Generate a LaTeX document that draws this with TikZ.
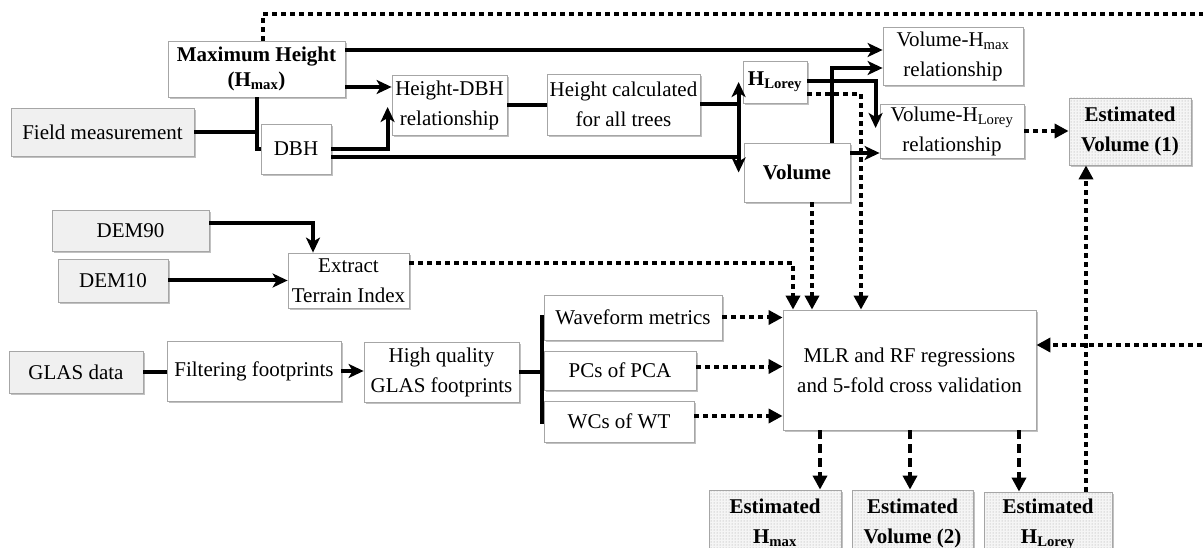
\documentclass[tikz,border=0pt]{standalone}
\usepackage{fontspec}
\setmainfont{Liberation Serif}
\usetikzlibrary{arrows.meta,shadows,patterns,calc}
\begin{document}
\begin{tikzpicture}[x=1pt,y=-1pt,
  box/.style={draw=gray!70, line width=0.8pt, fill=white, inner sep=0pt, align=center,
    drop shadow={shadow xshift=2pt, shadow yshift=-2pt, opacity=0.35, fill=black!70},
    font=\fontsize{21}{30}\selectfont},
  gbox/.style={box, fill=gray!12},
  ebox/.style={box, fill=gray!8, postaction={pattern=dots, pattern color=gray!75},
    font=\bfseries\fontsize{21}{30}\selectfont},
  ln/.style={line width=4pt},
  arr/.style={ln, -{Stealth[length=15pt,width=14pt,inset=4pt]}},
  dotl/.style={ln, dash pattern=on 4.5pt off 4.5pt},
  dotarr/.style={dotl, -{Triangle[length=14pt,width=14pt]}},
  dasharr/.style={ln, dash pattern=on 9pt off 5pt, -{Triangle[length=14pt,width=14pt]}}
]
\useasboundingbox (0,0) rectangle (1203,548);
\clip (0,0) rectangle (1203,548);

% nodes
\node[box, minimum width=177pt, minimum height=56pt] (maxh) at (256.5,69) {\textbf{Maximum Height}\\[-5pt]\textbf{(H\textsubscript{max})}};
\node[gbox, minimum width=183pt, minimum height=48pt] (field) at (102.5,132) {Field measurement};
\node[box, minimum width=70pt, minimum height=50pt] (dbh) at (296,149) {DBH};
\node[box, minimum width=115pt, minimum height=60pt] (hdbh) at (449.5,105) {Height-DBH\\relationship};
\node[box, minimum width=153pt, minimum height=61pt] (hcalc) at (623.5,104.5) {Height calculated\\for all trees};
\node[box, minimum width=64pt, minimum height=42pt] (hlorey) at (775,82) {\textbf{H\textsubscript{Lorey}}};
\node[box, minimum width=106pt, minimum height=59pt] (volume) at (797,172.5) {\textbf{Volume}};
\node[box, minimum width=140pt, minimum height=58pt] (vhmax) at (953,56) {Volume-H\textsubscript{max}\\relationship};
\node[box, minimum width=144pt, minimum height=54pt] (vhlorey) at (952,131) {Volume-H\textsubscript{Lorey}\\relationship};
\node[ebox, minimum width=122pt, minimum height=67pt] (estv1) at (1130,131.5) {Estimated\\Volume (1)};
\node[gbox, minimum width=157pt, minimum height=41pt] (dem90) at (130.5,230.5) {DEM90};
\node[gbox, minimum width=110pt, minimum height=43pt] (dem10) at (113,280.5) {DEM10};
\node[box, minimum width=121pt, minimum height=55pt] (extract) at (348.5,280.5) {Extract\\Terrain Index};
\node[gbox, minimum width=134pt, minimum height=42pt] (glas) at (76,372) {GLAS data};
\node[box, minimum width=174pt, minimum height=60pt] (filter) at (254,371) {Filtering footprints};
\node[box, minimum width=155pt, minimum height=60pt] (hq) at (441.5,372) {High quality\\GLAS footprints};
\node[box, minimum width=178pt, minimum height=45pt] (wave) at (633,317.5) {Waveform metrics};
\node[box, minimum width=152pt, minimum height=39pt] (pca) at (620,370.5) {PCs of PCA};
\node[box, minimum width=150pt, minimum height=41pt] (wt) at (619,421.5) {WCs of WT};
\node[box, minimum width=253pt, minimum height=120pt] (mlr) at (909.5,370) {MLR and RF regressions\\and 5-fold cross validation};
\node[ebox, minimum width=132pt, minimum height=66pt] (esth) at (775,523) {Estimated\\H\textsubscript{max}};
\node[ebox, minimum width=121pt, minimum height=66pt] (estv2) at (912.5,523) {Estimated\\Volume (2)};
\node[ebox, minimum width=128pt, minimum height=64pt] (esthl) at (1048,524) {Estimated\\H\textsubscript{Lorey}};

\coordinate (jx) at (739,0);
\coordinate (bx) at (542,0);
\coordinate (rx) at (1215,14);

% field measurement block
\draw[ln] (field.east) -- (field.east -| maxh.south);
\draw[ln] (maxh.south) |- (dbh.west);
\draw[arr] ([yshift=-18pt]maxh.east) -- ([yshift=-18pt]maxh.east -| hdbh.west);
\draw[arr] ([yshift=19pt]maxh.east) -- ([yshift=19pt]maxh.east -| vhmax.west);
\draw[arr] (dbh.east) -| ([xshift=-4pt,yshift=-2pt]hdbh.west);
\draw[arr] ([yshift=-8pt]dbh.east) -| ([xshift=-5pt]volume.west);
\draw[ln] (hdbh.east) -- (hdbh.east -| hcalc.west);
\draw[arr] (hcalc.east) -| ([xshift=-4pt]hlorey.west);
\draw[ln] (hcalc.east -| jx) -- ([yshift=-8pt]dbh.east -| jx);
\draw[arr] ([yshift=1pt]hlorey.east) -| ([xshift=-4pt,yshift=3pt]vhlorey.west);
\draw[dotarr] ([yshift=-12pt]hlorey.east) -| ([xshift=-48.5pt]mlr.north);
\draw[arr] ([xshift=35pt]volume.north) |- ([yshift=-12pt]vhmax.west);
\draw[arr] ([yshift=19.5pt]volume.east) -- ([yshift=19.5pt]volume.east -| vhlorey.west);
\draw[dotarr] ([xshift=15pt]volume.south) -- ([xshift=15pt]volume.south |- mlr.north);
\draw[dotarr] (vhlorey.east) -- (vhlorey.east -| estv1.west);

% terrain
\draw[arr] ([yshift=7.5pt]dem90.east) -| ([xshift=-35.5pt]extract.north);
\draw[arr] (dem10.east) -- (dem10.east -| extract.west);
\draw[dotarr] ([yshift=17.5pt]extract.east) -| ([xshift=-116.5pt]mlr.north);

% GLAS
\draw[ln] (glas.east) -- (glas.east -| filter.west);
\draw[arr] (filter.east) -- (filter.east -| hq.west);
\draw[ln] (hq.east) -- (hq.east -| bx);
\draw[ln] (wave.west) -- (wave.west -| bx) -- (wt.west -| bx) -- (wt.west);
\draw[dotarr] (wave.east) -- (wave.east -| mlr.west);
\draw[dotarr] ([yshift=4pt]pca.east) -- ([yshift=4pt]pca.east -| mlr.west);
\draw[dotarr] ([yshift=5.5pt]wt.east) -- ([yshift=5.5pt]wt.east -| mlr.west);

% outputs
\draw[dasharr] ([xshift=-89.5pt]mlr.south) -- ([xshift=-89.5pt]mlr.south |- esth.north);
\draw[dasharr] ([xshift=0.5pt]mlr.south) -- ([xshift=0.5pt]mlr.south |- estv2.north);
\draw[dasharr] ([xshift=109.5pt]mlr.south) -- ([xshift=109.5pt]mlr.south |- esthl.north);
\draw[dotarr] ([xshift=38pt]esthl.north) -- ([xshift=38pt]esthl.north |- estv1.south);

% long feedback loop
\draw[dotarr] ([xshift=6.5pt]maxh.north) |- (rx) -- ([yshift=25pt]mlr.east -| rx) -- ([yshift=25pt]mlr.east);
\end{tikzpicture}
\end{document}
